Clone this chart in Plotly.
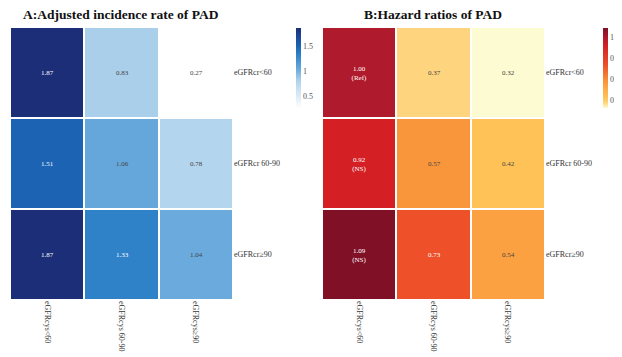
import plotly.graph_objects as go

# row / column categories
rows = ["eGFRcr<60", "eGFRcr 60-90", "eGFRcr≥90"]
cols = ["eGFRcys<60", "eGFRcys 60-90", "eGFRcys≥90"]

# A: adjusted incidence rate of PAD
incidence = [[1.87, 0.83, 0.27],
             [1.51, 1.06, 0.78],
             [1.87, 1.33, 1.04]]

# B: hazard ratios of PAD
hazard = [[1.00, 0.37, 0.32],
          [0.92, 0.57, 0.42],
          [1.09, 0.73, 0.54]]
hazard_note = [["(Ref)", "", ""],
               ["(NS)", "", ""],
               ["(NS)", "", ""]]

# colour ramps matched to the picture
blues = [[0.0, "#ffffff"], [0.32, "#b4d5ee"], [0.35, "#a9cfea"],
         [0.49, "#66a8db"], [0.66, "#2f82c8"], [0.78, "#1c62b2"],
         [1.0, "#1d2e78"]]
ylorrd = [[0.0, "#fdfbd2"], [0.065, "#fed57e"], [0.13, "#fec257"],
          [0.29, "#fba040"], [0.33, "#f9953a"], [0.53, "#ee5229"],
          [0.78, "#d41f25"], [0.88, "#b01a2c"], [1.0, "#7f1026"]]

# page body has an 8px margin, so the figure sits at (8, 8)
OFF = 8
W, H = 622 - OFF, 357 - OFF


def px_x(v):
    return (v - OFF) / W


def px_y(v):
    return 1 - (v - OFF) / H


def cell_labels(vals, notes=None):
    out = []
    for i, r in enumerate(vals):
        row = []
        for j, v in enumerate(r):
            s = "%.2f" % v
            if notes and notes[i][j]:
                s += "<br>" + notes[i][j]
            row.append(s)
        out.append(row)
    return out


cb_font = dict(size=8, family="Liberation Serif", color="#555")

fig = go.Figure()

fig.add_trace(go.Heatmap(
    z=incidence, x=cols, y=rows,
    text=cell_labels(incidence), texttemplate="%{text}",
    textfont=dict(size=7, family="Liberation Serif"),
    colorscale=blues, zmin=0.27, zmax=1.87,
    xgap=2, ygap=2, xaxis="x", yaxis="y",
    colorbar=dict(x=px_x(296), xanchor="left", y=px_y(28), yanchor="top",
                  len=80 / H, lenmode="fraction", thickness=5, outlinewidth=0,
                  ypad=0, xpad=0, tickvals=[0.5, 1, 1.5], ticks="",
                  tickfont=cb_font),
))

fig.add_trace(go.Heatmap(
    z=hazard, x=cols, y=rows,
    text=cell_labels(hazard, hazard_note), texttemplate="%{text}",
    textfont=dict(size=7, family="Liberation Serif"),
    colorscale=ylorrd, zmin=0.32, zmax=1.09,
    xgap=2, ygap=2, xaxis="x2", yaxis="y2",
    colorbar=dict(x=px_x(603), xanchor="left", y=px_y(28), yanchor="top",
                  len=80 / H, lenmode="fraction", thickness=5, outlinewidth=0,
                  ypad=0, xpad=0, tickvals=[0.4, 0.6, 0.8, 1.0], ticks="",
                  tickfont=cb_font),
))

axis_font = dict(size=8, family="Liberation Serif", color="#333")
xcommon = dict(tickangle=90, tickfont=axis_font, showgrid=False, zeroline=False,
               ticks="", showline=False)
ycommon = dict(side="right", autorange="reversed", tickfont=axis_font,
               showgrid=False, zeroline=False, ticks="", showline=False,
               domain=[px_y(300), px_y(27)])

fig.update_layout(
    width=W, height=H,
    margin=dict(l=0, r=0, t=0, b=0, autoexpand=False),
    paper_bgcolor="white", plot_bgcolor="white",
    xaxis=dict(domain=[px_x(10), px_x(233)], anchor="y", **xcommon),
    yaxis=dict(anchor="x", **ycommon),
    xaxis2=dict(domain=[px_x(322), px_x(545)], anchor="y2", **xcommon),
    yaxis2=dict(anchor="x2", **ycommon),
    annotations=[
        dict(text="<b>A:Adjusted incidence rate of PAD</b>", x=px_x(121), y=px_y(15),
             xref="paper", yref="paper", xanchor="center", yanchor="middle",
             showarrow=False,
             font=dict(size=13.5, family="Liberation Serif", color="#111")),
        dict(text="<b>B:Hazard ratios of PAD</b>", x=px_x(433), y=px_y(15),
             xref="paper", yref="paper", xanchor="center", yanchor="middle",
             showarrow=False,
             font=dict(size=13.5, family="Liberation Serif", color="#111")),
    ],
)

fig.write_html("out.html")
